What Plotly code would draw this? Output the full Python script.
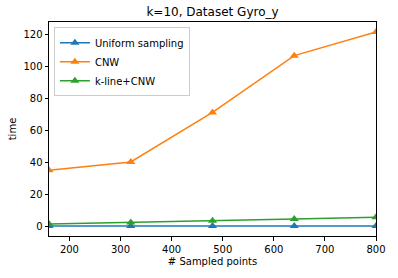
import plotly.graph_objects as go

x_vals = [160, 320, 480, 640, 800]
uniform = [0.1, 0.1, 0.1, 0.1, 0.1]
cnw = [35.2, 40.3, 71.4, 107.0, 121.8]
kline_cnw = [1.5, 2.4, 3.4, 4.5, 5.7]
x_ticks = [200, 300, 400, 500, 600, 700, 800]
y_ticks = [0, 20, 40, 60, 80, 100, 120]

series = [
    ("Uniform sampling", uniform, "#1f77b4"),
    ("CNW", cnw, "#ff7f0e"),
    ("k-line+CNW", kline_cnw, "#2ca02c"),
]

fig = go.Figure()
for name, ys, color in series:
    fig.add_trace(go.Scatter(
        x=x_vals, y=ys, name=name, mode="lines+markers",
        line=dict(color=color, width=1.5),
        marker=dict(symbol="triangle-up", size=8, color=color),
        cliponaxis=True,
    ))

font = "DejaVu Sans"
fig.update_layout(
    width=398, height=278,
    margin=dict(l=47, r=15, t=22, b=38),
    paper_bgcolor="white", plot_bgcolor="white",
    font=dict(family=font, size=10, color="black"),
    title=dict(text="k=10, Dataset Gyro_y", xref="paper", x=0.5, xanchor="center",
               y=1 - 12 / 278, yanchor="middle", font=dict(size=12)),
    showlegend=True,
    legend=dict(x=0.015, y=0.975, xanchor="left", yanchor="top",
                bgcolor="white", bordercolor="#cccccc", borderwidth=1,
                font=dict(size=10), tracegroupgap=0, itemwidth=30),
)
fig.update_xaxes(
    range=[160, 800], tickvals=x_ticks, showgrid=False, zeroline=False,
    showline=True, linecolor="black", linewidth=1, mirror=True,
    ticks="outside", ticklen=3.5, tickcolor="black",
    title=dict(text="# Sampled points", font=dict(size=10), standoff=4),
)
fig.update_yaxes(
    range=[-6.1, 128.1], tickvals=y_ticks, showgrid=False, zeroline=False,
    showline=True, linecolor="black", linewidth=1, mirror=True,
    ticks="outside", ticklen=3.5, tickcolor="black",
    title=dict(text="time", font=dict(size=10), standoff=4),
)
post = (
    "document.documentElement.style.margin='0';"
    "document.documentElement.style.padding='0';"
    "document.documentElement.style.overflow='hidden';"
    "document.body.style.margin='0';"
    "document.body.style.padding='0';"
    "document.body.style.overflow='hidden';"
)
fig.write_html("out.html", config={"displayModeBar": False}, post_script=post)
